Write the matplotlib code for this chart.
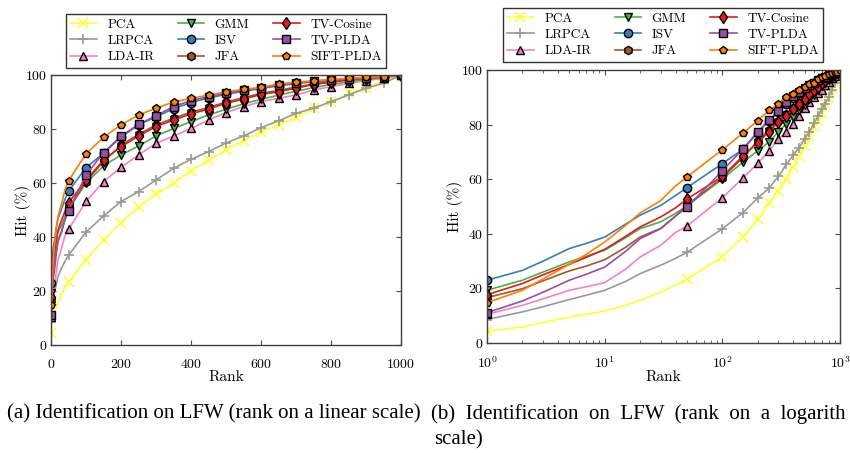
import numpy as np
import matplotlib
matplotlib.use('Agg')
import matplotlib.pyplot as plt

plt.rcParams['font.family'] = 'cmr10'
plt.rcParams['mathtext.fontset'] = 'cm'
plt.rcParams['axes.formatter.use_mathtext'] = True

# ranks at which the hit rate was read
ranks = [1, 2, 3, 5, 7, 10, 15, 20, 30, 40,
         50, 100, 150, 200, 250, 300, 350, 400, 450, 500,
         550, 600, 650, 700, 750, 800, 850, 900, 950, 1000]

pca = [4.3, 5.9, 7.5, 9.5, 10.5, 11.7, 13.8, 15.6, 18.7, 21.2,
       23.4, 31.6, 38.9, 45.3, 51.2, 55.8, 59.9, 64.6, 68.5, 72.2,
       75.7, 79.0, 81.5, 84.3, 87.7, 89.9, 93.2, 95.1, 97.9, 100]
lrpca = [8.6, 11.4, 13.3, 15.9, 17.5, 19.3, 22.5, 25.4, 28.5, 31.0,
         33.2, 41.8, 47.8, 53.1, 56.8, 61.1, 65.4, 68.8, 71.6, 74.8,
         77.4, 80.5, 83.0, 85.8, 87.7, 90.1, 92.6, 95.1, 96.9, 100]
lda_ir = [10.5, 13.8, 16.2, 19.3, 20.6, 22.1, 27.0, 31.5, 35.8, 40.5,
          42.8, 53.2, 60.5, 65.8, 70.4, 74.7, 77.4, 80.2, 83.3, 86.1,
          88.3, 90.1, 91.4, 92.6, 94.4, 95.7, 96.9, 97.9, 98.8, 100]
gmm = [19.3, 23.0, 26.0, 29.7, 31.8, 34.0, 38.5, 41.9, 44.4, 47.5,
       50.2, 60.0, 66.3, 70.4, 73.7, 77.4, 80.2, 82.7, 85.2, 87.3,
       89.3, 91.0, 92.5, 94.0, 95.3, 96.5, 97.5, 98.3, 99.0, 100]
isv = [23.0, 26.6, 30.0, 34.6, 36.5, 38.8, 43.5, 46.8, 50.4, 54.0,
       56.9, 65.7, 71.0, 77.0, 81.5, 84.5, 87.5, 89.8, 91.5, 92.8,
       94.0, 95.0, 96.0, 96.8, 97.5, 98.0, 98.5, 99.0, 99.4, 100]
jfa = [16.6, 19.9, 22.8, 26.4, 28.2, 30.5, 35.0, 38.8, 42.0, 46.5,
       50.5, 60.5, 68.0, 74.0, 78.0, 81.5, 84.0, 86.2, 88.0, 90.0,
       91.6, 93.2, 94.3, 95.5, 96.7, 97.5, 98.3, 98.9, 99.4, 100]
tv_cos = [17.7, 21.8, 25.0, 28.8, 31.4, 34.3, 39.0, 42.5, 46.2, 49.5,
          52.7, 61.0, 68.5, 73.4, 77.4, 80.9, 83.3, 85.6, 87.4, 89.5,
          91.1, 92.8, 93.8, 95.1, 96.5, 97.3, 98.2, 98.8, 99.3, 100]
tv_plda = [11.1, 15.4, 18.6, 23.0, 25.2, 27.8, 33.5, 38.2, 41.9, 46.5,
           49.7, 63.0, 71.2, 77.4, 81.7, 84.9, 88.3, 90.5, 92.0, 93.3,
           94.4, 95.2, 96.3, 97.0, 97.6, 98.1, 98.6, 99.0, 99.4, 100]
sift_plda = [14.8, 19.3, 23.5, 28.8, 32.5, 37.0, 43.0, 47.6, 52.2, 57.5,
             60.8, 70.8, 76.9, 81.5, 85.2, 87.7, 90.0, 91.3, 92.6, 93.8,
             94.7, 95.4, 96.7, 97.3, 97.9, 98.4, 98.8, 99.1, 99.4, 100]

names = ['PCA', 'LRPCA', 'LDA-IR', 'GMM', 'ISV', 'JFA', 'TV-Cosine', 'TV-PLDA', 'SIFT-PLDA']
series = [pca, lrpca, lda_ir, gmm, isv, jfa, tv_cos, tv_plda, sift_plda]
colors = ['#ffff33', '#999999', '#f781bf', '#4daf4a', '#377eb8', '#a65628', '#e41a1c', '#984ea3', '#ff7f00']
markers = ['x', '+', '^', 'v', 'o', 'h', 'd', 's', 'p']

# markers only at rank 1 and every 50 ranks
mark_idx = [0] + list(range(10, len(ranks)))

fig = plt.figure(figsize=(8.5, 4.53), dpi=100)
ax1 = fig.add_axes([51/850, 108/453, 350/850, 270/453])
ax2 = fig.add_axes([487/850, 110/453, 353/850, 273/453])

for ax in (ax1, ax2):
    for name, y, c, m in zip(names, series, colors, markers):
        if m in ('x', '+'):
            ax.plot(ranks, y, color=c, lw=1.2, marker=m, ms=7, mew=1.2,
                    markevery=mark_idx, label=name)
        else:
            ax.plot(ranks, y, color=c, lw=1.2, marker=m, ms=6, mew=1.0,
                    mfc=c, mec='black', markevery=mark_idx, label=name)
    ax.set_ylim(0, 100)
    ax.set_yticks([0, 20, 40, 60, 80, 100])
    ax.tick_params(direction='in', top=True, right=True, which='both', labelsize=10,
                   color='0.3')
    ax.tick_params(axis='x', which='major', pad=9)
    ax.tick_params(axis='y', which='major', pad=2.5)
    for s in ax.spines.values():
        s.set_linewidth(1.0)
        s.set_color('0.25')

ax1.set_xlim(0, 1000)
ax1.set_xticks([0, 200, 400, 600, 800, 1000])
ax2.set_xscale('log')
ax2.set_xlim(1, 1000)

# axis labels placed where the reference has them
xl1 = ax1.set_xlabel('Rank', fontsize=11)
xl2 = ax2.set_xlabel('Rank', fontsize=11)
yl1 = ax1.set_ylabel('Hit (%)', fontsize=11)
yl2 = ax2.set_ylabel('Hit (%)', fontsize=11)
ax1.xaxis.set_label_coords(0.5, (345 - 377) / 270)
ax2.xaxis.set_label_coords(0.5, (343 - 377) / 273)
ax1.yaxis.set_label_coords((22.7 - 51) / 350, 0.5)
ax2.yaxis.set_label_coords((455 - 487) / 353, 0.5)
for t in (xl1, xl2, yl1, yl2):
    t.set_va('center')

leg_kw = dict(loc='upper center', ncol=3, fontsize=9.5, frameon=True, fancybox=False,
              edgecolor='black', handlelength=2.0, handletextpad=0.8, columnspacing=1.8,
              labelspacing=0.3, borderpad=0.35, borderaxespad=0,
              bbox_transform=fig.transFigure)
l1 = ax1.legend(bbox_to_anchor=(226/850, 1 - 14/453), **leg_kw)
l2 = ax2.legend(bbox_to_anchor=(663/850, 1 - 8/453), **leg_kw)
for l in (l1, l2):
    l.get_frame().set_linewidth(1.0)

# captions (the right one runs off the page in the reference)
fig.text(7/850, 1 - 414/453, '(a) Identification on LFW (rank on a linear scale)',
         fontfamily='Liberation Serif', fontsize=15, va='center', ha='left')
fig.text(431/850, 1 - 414/453, '(b)  Identification  on  LFW  (rank  on  a  logarith',
         fontfamily='Liberation Serif', fontsize=15, va='center', ha='left')
fig.text(434/850, 1 - 440/453, 'scale)',
         fontfamily='Liberation Serif', fontsize=15, va='center', ha='left')

fig.savefig('out.png', dpi=100)
